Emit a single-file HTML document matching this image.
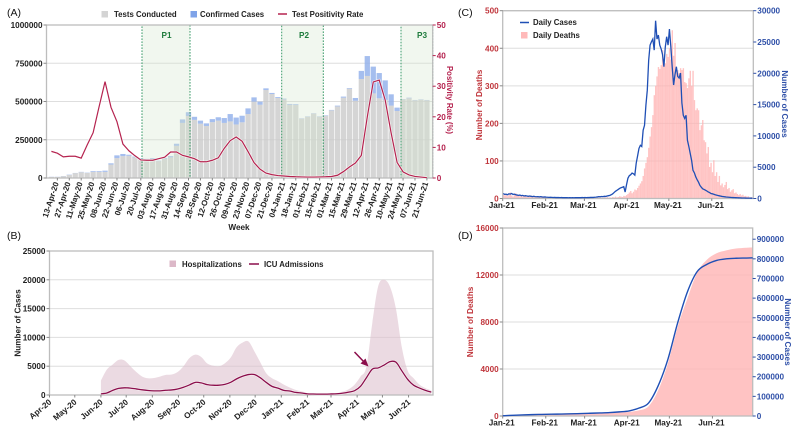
<!DOCTYPE html>
<html lang="en">
<head>
<meta charset="utf-8">
<title>COVID-19 testing, hospital and mortality panels</title>
<style>
html,body{margin:0;padding:0;background:#fff;}
svg{display:block;font-family:"Liberation Sans",sans-serif;}
text{font-weight:bold;font-size:8.2px;fill:#222;}
.plain{font-weight:normal;font-size:10.5px;fill:#111;}
.leg{font-size:7.8px;fill:#222;}
</style>
</head>
<body>
<svg id="chart" width="800" height="435" viewBox="0 0 800 435" xmlns="http://www.w3.org/2000/svg">
  <g id="panelA"></g>
  <g id="panelB"></g>
  <g id="panelC"></g>
  <g id="panelD"></g>

  <text class="plain" x="7" y="16">(A)</text>
  <text class="plain" x="7" y="239">(B)</text>
  <text class="plain" x="458" y="16">(C)</text>
  <text class="plain" x="458" y="239">(D)</text>

  <g>
    <rect x="101.5" y="11" width="6.5" height="6.5" fill="#d4d4d4"/>
    <text class="leg" x="114" y="17">Tests Conducted</text>
    <rect x="190.5" y="11" width="6.5" height="6.5" fill="#7fa3e8"/>
    <text class="leg" x="200" y="17">Confirmed Cases</text>
    <line x1="278" y1="14" x2="287" y2="14" stroke="#b5234f" stroke-width="1.5"/>
    <text class="leg" x="292" y="17">Test Positivity Rate</text>
  </g>
  <g>
    <text x="166.5" y="38" text-anchor="middle" style="fill:#1e7b3c">P1</text>
    <text x="304" y="38" text-anchor="middle" style="fill:#1e7b3c">P2</text>
    <text x="422" y="38" text-anchor="middle" style="fill:#1e7b3c">P3</text>
  </g>
  <text x="239" y="230" text-anchor="middle">Week</text>
  <text transform="translate(447,100) rotate(90)" text-anchor="middle" style="fill:#b5234f;font-size:7.8px">Positivity Rate (%)</text>

  <g>
    <rect x="169.5" y="260.5" width="6.5" height="6.5" fill="#dcb8c8"/>
    <text class="leg" x="182" y="267">Hospitalizations</text>
    <line x1="249" y1="264" x2="259" y2="264" stroke="#8b0d4b" stroke-width="1.5"/>
    <text class="leg" x="264" y="267">ICU Admissions</text>
  </g>
  <text transform="translate(20.5,323) rotate(-90)" text-anchor="middle">Number of Cases</text>
  <g>
    <line x1="354.5" y1="352" x2="365" y2="363" stroke="#8b0d4b" stroke-width="1.5"/>
    <polygon points="368.5,366.5 360.5,363.5 365.5,358.5" fill="#8b0d4b"/>
  </g>

  <g>
    <line x1="520" y1="22.5" x2="529" y2="22.5" stroke="#1f4fb5" stroke-width="1.5"/>
    <text class="leg" x="533" y="25">Daily Cases</text>
    <rect x="521" y="32" width="6.5" height="6.5" fill="#ffb9b9"/>
    <text class="leg" x="533" y="38">Daily Deaths</text>
  </g>
  <text transform="translate(482,105) rotate(-90)" text-anchor="middle" style="fill:#c0363c">Number of Deaths</text>
  <text transform="translate(782,104) rotate(90)" text-anchor="middle" style="fill:#2f50a8">Number of Cases</text>
  <text transform="translate(473,322) rotate(-90)" text-anchor="middle" style="fill:#c0363c">Number of Deaths</text>
  <text transform="translate(785,332) rotate(90)" text-anchor="middle" style="fill:#2f50a8">Number of Cases</text>
</svg>

<script>
/* ---------- Panel A data ---------- */
const weekLabels = ["13-Apr-20","27-Apr-20","11-May-20","25-May-20","08-Jun-20","22-Jun-20","06-Jul-20","20-Jul-20","03-Aug-20","17-Aug-20","31-Aug-20","14-Sep-20","28-Sep-20","12-Oct-20","26-Oct-20","09-Nov-20","23-Nov-20","07-Dec-20","21-Dec-20","04-Jan-21","18-Jan-21","01-Feb-21","15-Feb-21","01-Mar-21","15-Mar-21","29-Mar-21","12-Apr-21","26-Apr-21","10-May-21","24-May-21","07-Jun-21","21-Jun-21"];
const testsConducted = [7000,7000,12000,20000,32000,38000,33000,40000,40000,40000,88000,130000,143000,145000,135000,125000,120000,125000,110000,125000,135000,210000,360000,405000,380000,355000,340000,365000,375000,360000,370000,350000,364000,418000,499000,479000,575000,549000,523000,514000,479000,477000,388000,401000,421000,401000,407000,442000,468000,525000,584000,505000,647000,667000,553000,521000,510000,473000,438000,514000,521000,508000,512000,508000];
const confirmedCases = [1000,1000,1000,2000,1000,2000,2000,5000,5000,8000,8000,18000,14000,7000,5000,5000,5000,5000,3000,5000,8000,14000,23000,25000,20000,20000,17000,20000,22000,32000,48000,45000,43000,37000,28000,20000,11000,7000,6000,5000,5000,5000,2000,2000,2000,2000,3000,3000,5000,7000,4000,18000,53000,130000,175000,165000,128000,74000,22000,2000,4000,2000,2000,2000];
const positivityRate = [8.7,8.1,6.9,7.1,7.1,6.5,10.8,14.8,23.3,31.5,23.1,18.4,11.1,8.9,7.3,5.9,5.8,5.8,6.3,6.8,8.5,8.5,7.4,6.9,6.3,5.3,5.3,5.8,6.6,9.7,12.2,13.4,12,8.6,5,2.9,1.6,1.1,0.8,0.65,0.5,0.4,0.35,0.3,0.3,0.35,0.4,0.5,0.9,2.1,3.6,4.9,7.4,20,31.4,32,25.5,14.7,5.1,2,1,0.5,0.3,0.1];
const testTicks = [0,250000,500000,750000,1000000];
const rateTicks = [0,10,20,30,40,50];

/* ---------- Panel B data (weekly, from 01-Jun-20) ---------- */
const monthLabelsB = ["Apr-20","May-20","Jun-20","Jul-20","Aug-20","Sep-20","Oct-20","Nov-20","Dec-20","Jan-21","Feb-21","Mar-21","Apr-21","May-21","Jun-21"];
const monthStartDaysB = [0,30,61,91,122,153,183,214,244,275,306,334,365,395,426];
const hospitalizations = [2500,4400,5300,6100,6000,5000,4000,3200,2900,2950,3200,3500,3550,4000,5000,6400,7000,6600,5500,5100,5000,5500,6500,8300,9100,9300,7600,5700,3800,2900,2400,1800,1300,900,650,350,250,200,200,200,350,600,1000,1800,3200,4900,12500,18900,20000,18800,15000,8300,4200,2900,1800,1200,800];
const icuAdmissions = [200,350,800,1150,1250,1200,1050,900,780,720,720,820,880,1050,1350,1750,2200,2100,1800,1700,1700,1850,2200,2800,3250,3550,3550,3000,2200,1500,1200,800,700,450,350,200,170,150,150,180,220,320,500,750,1500,3000,4500,4700,5200,5800,5700,4200,2700,1700,1200,800,500];
const caseTicksB = [0,5000,10000,15000,20000,25000];

/* ---------- Panel C data (daily, Jan-Jun 2021) ---------- */
const monthLabelsC = ["Jan-21","Feb-21","Mar-21","Apr-21","May-21","Jun-21"];
const monthStartDaysC = [0,31,59,90,120,151];
const dailyDeaths = [
10,8,12,6,9,16,8,5,12,14,10,7,6,9,5,8,6,4,7,5,8,4,3,6,3,5,2,4,3,6,2,
3,2,4,2,3,1,2,3,2,1,2,2,1,3,2,1,2,1,2,1,3,2,1,2,1,2,1,2,
1,2,1,3,2,1,2,3,1,2,2,3,1,2,3,2,4,2,3,2,4,3,5,3,4,6,5,4,7,6,9,
12,16,20,14,18,24,22,28,34,40,46,60,80,95,110,135,165,190,222,275,300,325,350,345,355,395,369,360,385,377,
400,370,448,380,414,342,342,334,347,342,347,310,307,294,320,340,300,340,262,235,240,235,182,195,209,155,150,120,137,84,95,
70,102,60,70,44,60,35,40,30,36,44,25,28,18,22,25,14,16,12,9,12,8,10,6,7,5,6,3,4,2];
const dailyCases = [
800,650,700,600,750,700,800,650,700,600,550,500,550,450,500,400,450,400,350,400,350,300,350,300,280,300,250,300,250,220,250,
220,200,180,200,180,160,170,150,160,150,140,150,130,140,130,140,120,130,120,130,120,130,140,130,140,130,150,140,
150,140,160,150,170,180,170,200,220,250,300,280,320,300,350,330,400,450,500,600,750,950,1150,1300,1450,1600,1725,1800,1890,1030,2200,
3230,3640,3800,4060,3950,3740,5640,6800,8000,8500,8300,10900,11700,14900,17300,22100,24500,25040,25470,23700,28400,25470,26100,24500,23900,23000,21050,24200,25840,24500,
27070,24240,21000,18130,19800,21050,19500,19250,20050,15250,13300,12800,13300,9300,8300,7200,6100,4500,4100,3460,3000,2600,2100,1800,1550,1450,1330,1200,1050,950,800,
750,680,600,530,480,430,380,330,300,270,240,220,200,180,160,150,140,130,120,110,100,90,85,80,70,65,60,55,50,45];
const deathTicksC = [0,100,200,300,400,500];
const caseTicksC = [0,5000,10000,15000,20000,25000,30000];

/* ---------- Panel D data (cumulative) ---------- */
const cumulativeDays = [0,7,14,21,28,35,42,49,56,63,70,77,84,91,98,105,112,119,126,133,140,147,154,161,168,175,180];
const cumulativeDeaths = [10,70,130,170,190,200,210,220,230,240,260,280,310,350,480,820,2200,4500,7600,10000,12200,13300,13850,14100,14250,14320,14355];
const cumulativeCases = [1000,3500,5500,7000,8000,9000,10000,11000,12500,14000,15500,17500,21000,26000,40000,66000,155000,290000,475000,632000,735000,772000,792000,800000,803000,804000,805000];
const deathTicksD = [0,4000,8000,12000,16000];
const caseTicksD = [0,100000,200000,300000,400000,500000,600000,700000,800000,900000];

const NS = "http://www.w3.org/2000/svg";
const RED = "#c0363c", BLUE = "#2f50a8", CRIM = "#b5234f", AXIS = "#bdbdbd", GRID = "#dedede";

function mk(parent, tag, attrs, txt) {
  const el = document.createElementNS(NS, tag);
  for (const k in attrs) el.setAttribute(k, attrs[k]);
  if (txt !== undefined) el.textContent = txt;
  parent.appendChild(el);
  return el;
}
function linear(d0, d1, r0, r1) { return v => r0 + (v - d0) * (r1 - r0) / (d1 - d0); }
function pointsOf(xs, ys) { return xs.map((x, i) => x.toFixed(2) + "," + ys[i].toFixed(2)).join(" "); }
/* Catmull-Rom curve through the data points */
function smoothSegs(xs, ys) {
  let d = "";
  for (let i = 0; i < xs.length - 1; i++) {
    const a = Math.max(i - 1, 0), b = Math.min(i + 2, xs.length - 1);
    const c1x = xs[i] + (xs[i + 1] - xs[a]) / 6, c1y = ys[i] + (ys[i + 1] - ys[a]) / 6;
    const c2x = xs[i + 1] - (xs[b] - xs[i]) / 6, c2y = ys[i + 1] - (ys[b] - ys[i]) / 6;
    d += " C" + c1x.toFixed(2) + " " + c1y.toFixed(2) + " " + c2x.toFixed(2) + " " + c2y.toFixed(2) + " " + xs[i + 1].toFixed(2) + " " + ys[i + 1].toFixed(2);
  }
  return d;
}

function gridLines(g, ticks, y, x0, x1) {
  ticks.forEach(t => {
    const l = mk(g, "line", {x1: x0, x2: x1, y1: y(t), y2: y(t), stroke: GRID, "stroke-width": 1});
    
    
  });
}
function yAxis(g, ticks, y, x, side, color) {
  ticks.forEach(t => {
    const dir = side === "left" ? -1 : 1;
    const tk = mk(g, "line", {x1: x, x2: x + dir * 3, y1: y(t), y2: y(t), stroke: side === "left" ? "#888" : color, "stroke-width": 1});
    
    
    const lb = mk(g, "text", {x: x + dir * 4, y: y(t) + 3, "text-anchor": side === "left" ? "end" : "start", style: "fill:" + color}, String(t));
    
    
  });
}
function frame(g, x0, y0, x1, y1) {
  const f = mk(g, "rect", {x: x0, y: y0, width: x1 - x0, height: y1 - y0, fill: "none", stroke: AXIS, "stroke-width": 1.3});
  
  
}
function monthAxis(g, labels, days, x, yBase, rotate) {
  labels.forEach((lab, i) => {
    const px = x(days[i]);
    const tk = mk(g, "line", {x1: px, x2: px, y1: yBase, y2: yBase + 2.5, stroke: "#888", "stroke-width": 1});
    
    
    const attrs = rotate
      ? {x: px + 2.5, y: yBase + 8, "text-anchor": "end", transform: "rotate(-40 " + (px + 2.5) + " " + (yBase + 8) + ")"}
      : {x: px - 1, y: yBase + 9.5, "text-anchor": "middle"};
    const lb = mk(g, "text", attrs, lab);
    
    
  });
}

/* ---------- Panel A ---------- */
(function () {
  const g = document.getElementById("panelA");
  const L = 46.5, R = 432.7, T = 25, B = 178;
  const x = linear(0, 63, 51.4, 426.9);
  const yT = linear(0, 1000000, B, T);
  const yR = linear(0, 50, B, T);
  const barW = 5.3;
  gridLines(g, testTicks, yT, L, R);
  testsConducted.forEach((v, i) => {
    const r = mk(g, "rect", {x: x(i) - barW / 2, y: yT(v), width: barW, height: B - yT(v), fill: "#c9c9c9", opacity: 0.78});
    
    
    const c = confirmedCases[i];
    const b = mk(g, "rect", {x: x(i) - barW / 2, y: yT(v + c), width: barW, height: yT(v) - yT(v + c), fill: "#8eaeea", opacity: 0.8});
    
    
  });
  [[142, 190], [281.7, 323.3], [401, 432.7]].forEach(p => {
    const r = mk(g, "rect", {x: p[0], y: T, width: p[1] - p[0], height: B - T, fill: "#d5e6cd", "fill-opacity": 0.32, stroke: "#3a9a68", "stroke-width": 1, "stroke-dasharray": "1.6 1.4"});
    
    
  });
  frame(g, L, T, R, B);
  const xs = positivityRate.map((_, i) => x(i));
  const ys = positivityRate.map(v => yR(v));
  const halo = mk(g, "polyline", {points: pointsOf(xs, ys), fill: "none", stroke: "#fff", "stroke-width": 2.4, opacity: 0.8});
  
  
  const line = mk(g, "polyline", {points: pointsOf(xs, ys), fill: "none", stroke: CRIM, "stroke-width": 1.2});
  
  
  yAxis(g, testTicks, yT, L, "left", "#222");
  yAxis(g, rateTicks, yR, R, "right", CRIM);
  weekLabels.forEach((lab, j) => {
    const px = x(1 + 2 * j);
    const tk = mk(g, "line", {x1: px, x2: px, y1: B, y2: B + 2.5, stroke: "#888", "stroke-width": 1});
    
    
    const lx = px + 1.5, ly = B + 5;
    const t = mk(g, "text", {x: lx, y: ly, "text-anchor": "end", transform: "rotate(-72 " + lx + " " + ly + ")", style: "font-size:8px"}, lab);
    
    
  });
})();

/* ---------- Panel B ---------- */
(function () {
  const g = document.getElementById("panelB");
  const L = 49.5, R = 433, T = 251, B = 395;
  const x = linear(0, 455, L, R);
  const y = linear(0, 25000, B, T);
  const dayOf = k => 61 + 7 * k;
  gridLines(g, caseTicksB, y, L, R);
  const xs = hospitalizations.map((_, k) => x(dayOf(k)));
  const ys = hospitalizations.map(v => y(v));
  const last = xs.length - 1;
  const area = mk(g, "path", {d: "M" + xs[0] + " " + B + " L" + xs[0] + " " + ys[0] + smoothSegs(xs, ys) + " L" + xs[last] + " " + B + " Z", fill: "#dcc0cd", opacity: 0.58});
  
  
  frame(g, L, T, R, B);
  const ysI = icuAdmissions.map(v => y(v));
  const icuD = "M" + xs[0] + " " + ysI[0] + smoothSegs(xs, ysI);
  const halo = mk(g, "path", {d: icuD, fill: "none", stroke: "#fff", "stroke-width": 2.4, opacity: 0.7});
  
  
  const line = mk(g, "path", {d: icuD, fill: "none", stroke: "#8b0d4b", "stroke-width": 1.3});
  
  
  yAxis(g, caseTicksB, y, L, "left", "#222");
  monthAxis(g, monthLabelsB, monthStartDaysB, x, B, true);
})();

/* ---------- Panel C ---------- */
(function () {
  const g = document.getElementById("panelC");
  const L = 502.7, R = 753.3, T = 10.7, B = 198.5;
  const x = linear(0, 181, L, R);
  const yD = linear(0, 500, B, T);
  const yC = linear(0, 30000, B, T);
  gridLines(g, deathTicksC, yD, L, R);
  dailyDeaths.forEach((v, d) => {
    const r = mk(g, "rect", {x: x(d), y: yD(v), width: 1.38, height: B - yD(v), fill: "#ffb0b0", opacity: 0.75});
    
    
  });
  frame(g, L, T, R, B);
  const xs = dailyCases.map((_, d) => x(d) + 0.6);
  const ys = dailyCases.map(v => yC(v));
  const line = mk(g, "polyline", {points: pointsOf(xs, ys), fill: "none", stroke: "#1f4fb5", "stroke-width": 1.3});
  
  
  yAxis(g, deathTicksC, yD, L, "left", RED);
  yAxis(g, caseTicksC, yC, R, "right", BLUE);
  monthAxis(g, monthLabelsC, monthStartDaysC, x, B, false);
})();

/* ---------- Panel D ---------- */
(function () {
  const g = document.getElementById("panelD");
  const L = 502.7, R = 752.7, T = 228, B = 416;
  const x = linear(0, 180, L, R);
  const yD = linear(0, 16000, B, T);
  const yC = linear(0, 957000, B, T);
  gridLines(g, deathTicksD, yD, L, R);
  const xs = cumulativeDays.map(d => x(d));
  const ysD = cumulativeDeaths.map(v => yD(v));
  const area = mk(g, "path", {d: "M" + L + " " + B + " L" + xs[0] + " " + ysD[0] + smoothSegs(xs, ysD) + " L" + R + " " + B + " Z", fill: "#ffb8b8", opacity: 0.85});
  
  
  frame(g, L, T, R, B);
  const ysC = cumulativeCases.map(v => yC(v));
  const line = mk(g, "path", {d: "M" + xs[0] + " " + ysC[0] + smoothSegs(xs, ysC), fill: "none", stroke: "#1f4fb5", "stroke-width": 1.4});
  
  
  yAxis(g, deathTicksD, yD, L, "left", RED);
  yAxis(g, caseTicksD, yC, R, "right", BLUE);
  monthAxis(g, monthLabelsC, monthStartDaysC, x, B, false);
})();
</script>
</body>
</html>
